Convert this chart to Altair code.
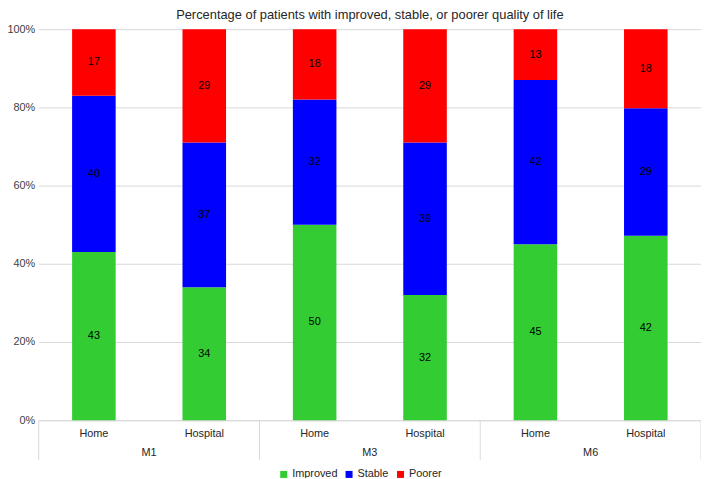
import altair as alt
import pandas as pd

groups = ["M1", "M1", "M3", "M3", "M6", "M6"]
settings = ["Home", "Hospital", "Home", "Hospital", "Home", "Hospital"]
improved = [43, 34, 50, 32, 45, 42]
stable = [40, 37, 32, 39, 42, 29]
poorer = [17, 29, 18, 29, 13, 18]
statuses = ["Improved", "Stable", "Poorer"]
colors = ["#33CC33", "#0000FF", "#FF0000"]

rows = []
for g, s, a, b, c in zip(groups, settings, improved, stable, poorer):
    for i, (st, v) in enumerate(zip(statuses, [a, b, c])):
        rows.append({"group": g, "setting": s, "key": f"{g}|{s}", "status": st, "order": i, "value": v})
df = pd.DataFrame(rows)
keys = [f"{g}|{s}" for g, s in zip(groups, settings)]

W, H = 669, 395
FONT = "Liberation Sans"

xscale = alt.Scale(domain=keys, paddingInner=0, paddingOuter=0)

base = alt.Chart(df).transform_joinaggregate(
    total="sum(value)", groupby=["key"]
).transform_calculate(pct="datum.value / datum.total")

bars = base.mark_bar(size=44).encode(
    x=alt.X("key:N", scale=xscale, sort=keys, title=None,
            axis=alt.Axis(labelExpr="split(datum.label, '|')[1]", labelAngle=0, ticks=False,
                          domainColor="#d9d9d9", labelPadding=7, labelFontSize=11,
                          labelColor="#262626", labelFont=FONT)),
    y=alt.Y("sum(pct):Q", stack="zero", scale=alt.Scale(domain=[0, 1]), title=None,
            axis=alt.Axis(format="%", values=[0, 0.2, 0.4, 0.6, 0.8, 1.0], domain=False, ticks=False,
                          gridColor="#d9d9d9", labelFontSize=11, labelColor="#404040",
                          labelFont=FONT, labelPadding=4)),
    color=alt.Color("status:N", scale=alt.Scale(domain=statuses, range=colors), sort=statuses,
                    legend=alt.Legend(orient="none", legendX=242, legendY=444, direction="horizontal",
                                      title=None, symbolType="square", symbolSize=50, labelFontSize=11,
                                      labelFont=FONT, labelColor="#262626",
                                      columnPadding=6, symbolStrokeWidth=0, labelOffset=3)),
    order=alt.Order("order:Q"),
)

labels = base.transform_stack(
    stack="pct", groupby=["key"], as_=["y0", "y1"], sort=[alt.SortField("order")]
).transform_calculate(mid="(datum.y0 + datum.y1) / 2").mark_text(
    fontSize=11, font=FONT, color="black"
).encode(
    x=alt.X("key:N", scale=xscale, sort=keys),
    y=alt.Y("mid:Q"),
    text="value:Q",
)

gdf = pd.DataFrame({"group": ["M1", "M3", "M6"], "key": [keys[1], keys[3], keys[5]],
                    "start": [keys[0], keys[2], keys[4]]})

group_text = alt.Chart(gdf).mark_text(fontSize=11, font=FONT, color="#262626").encode(
    x=alt.X("key:N", scale=xscale, sort=keys, bandPosition=0),
    y=alt.value(H + 33),
    text="group:N",
)

sep_start = alt.Chart(gdf).mark_rule(color="#d9d9d9", clip=False).encode(
    x=alt.X("start:N", scale=xscale, sort=keys, bandPosition=0),
    y=alt.value(H),
    y2=alt.value(H + 40),
)
sep_end = alt.Chart(gdf.tail(1)).mark_rule(color="#d9d9d9", clip=False).encode(
    x=alt.X("key:N", scale=xscale, sort=keys, bandPosition=1),
    y=alt.value(H),
    y2=alt.value(H + 40),
)

chart = alt.layer(bars, labels, group_text, sep_start, sep_end).properties(
    width=W, height=H,
    autosize=alt.AutoSizeParams(type="none"),
    padding={"left": 31, "top": 19, "right": 0, "bottom": 56},
    title=alt.TitleParams("Percentage of patients with improved, stable, or poorer quality of life",
                          fontSize=13, fontWeight="normal", font=FONT, color="#262626", offset=1),
).configure_view(stroke=None)

chart.save("out.html", embed_options={"renderer": "svg", "actions": False})
